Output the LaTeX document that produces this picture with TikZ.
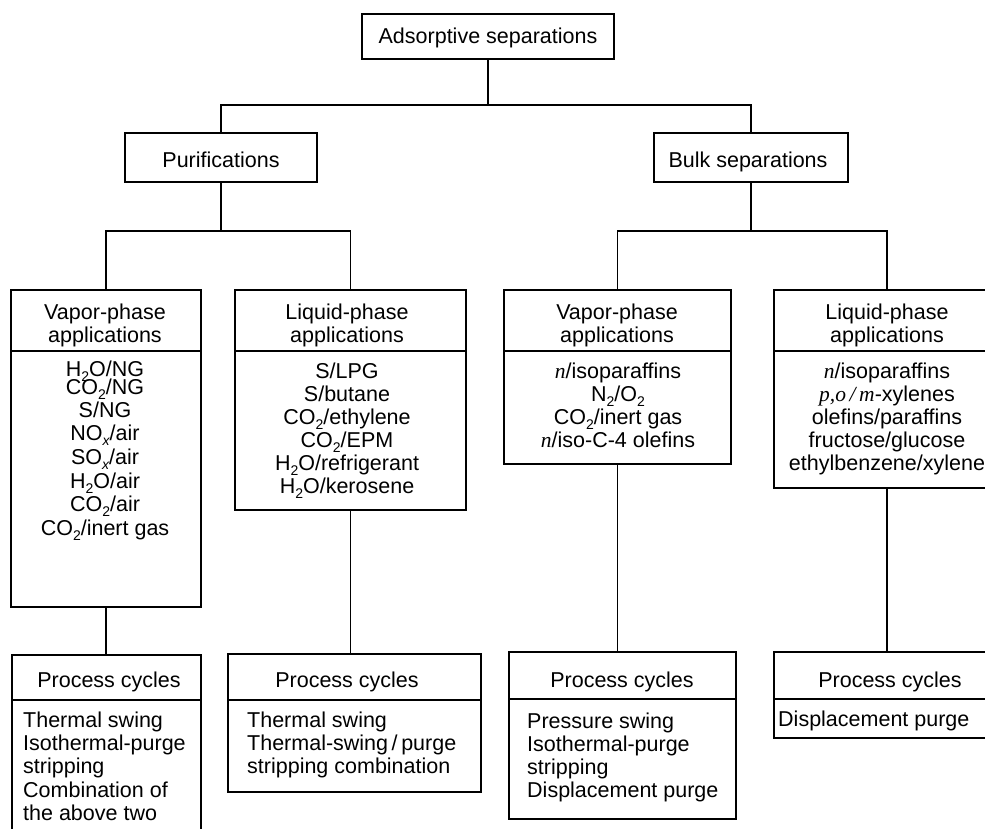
\documentclass[tikz,border=0pt]{standalone}
\usepackage{fontspec}
\setmainfont{Liberation Sans}
\newfontfamily\serifI{Liberation Serif}
\newcommand\sbs[1]{\smash{\raisebox{-0.26em}{\fontsize{14}{14}\selectfont #1}}}
\newcommand\vi[1]{{\serifI\itshape #1}}
\tikzset{
  ln/.style={line width=1.8pt},
  bx/.style={draw, line width=1.8pt, inner sep=0pt, rectangle},
  tx/.style={font=\fontsize{21.5}{23}\selectfont, inner sep=0pt, anchor=base},
  tl/.style={tx, anchor=base west},
}
\begin{document}
\begin{tikzpicture}[x=1pt,y=-1pt]
\useasboundingbox (0,0) rectangle (985,828);
\clip (0,0) rectangle (985,828);
\fill[white] (0,0) rectangle (985,828);

% top levels
\node[bx, minimum width=252pt, minimum height=45pt] (top) at (488,36.5) {};
\node[tx] (topt) at (488,43) {Adsorptive separations};
\node[bx, minimum width=192pt, minimum height=49pt] (pur) at (221,157.5) {};
\node[tx] (purt) at (221,167) {Purifications};
\node[bx, minimum width=194pt, minimum height=49pt] (bulk) at (751,157.5) {};
\node[tx] (bulkt) at (748,167) {Bulk separations};

% application boxes
\node[bx, minimum width=190pt, minimum height=317pt] (va) at (106,448.5) {};
\node[bx, minimum width=231pt, minimum height=220pt] (vb) at (350.5,400) {};
\node[bx, minimum width=227pt, minimum height=174pt] (vc) at (617.5,377) {};
\node[bx, minimum width=226pt, minimum height=198pt] (vd) at (887,389) {};

% process boxes
\node[bx, minimum width=189pt, minimum height=245pt] (pa) at (106.5,777.5) {};
\node[bx, minimum width=253pt, minimum height=138pt] (pb) at (354.5,723) {};
\node[bx, minimum width=227pt, minimum height=167pt] (pc) at (622.5,735.5) {};
\node[bx, minimum width=226pt, minimum height=86pt] (pd) at (887,695) {};

% dividers
\draw[ln] (va.west |- 0,351) -- (va.east |- 0,351);
\draw[ln] (vb.west |- 0,351) -- (vb.east |- 0,351);
\draw[ln] (vc.west |- 0,351) -- (vc.east |- 0,351);
\draw[ln] (vd.west |- 0,351) -- (vd.east |- 0,351);
\draw[ln] (pa.west |- 0,700) -- (pa.east |- 0,700);
\draw[ln] (pb.west |- 0,700) -- (pb.east |- 0,700);
\draw[ln] (pc.west |- 0,699) -- (pc.east |- 0,699);
\draw[ln] (pd.west |- 0,699) -- (pd.east |- 0,699);

% connectors
\draw[ln] (top.south) -- ++(0,45) -| (pur.north);
\draw[ln] (top.south) -- ++(0,45) -| (bulk.north);
\draw[ln] (pur.south) -- ++(0,48) -| (va.north);
\draw[ln] (pur.south) -- ++(0,48) -| (vb.north);
\draw[ln] (bulk.south) -- ++(0,48) -| (vc.north);
\draw[ln] (bulk.south) -- ++(0,48) -| (vd.north);
\draw[ln] (va.south) -- (va.south |- pa.north);
\draw[ln] (vb.south) -- (vb.south |- pb.north);
\draw[ln] (vc.south) -- (vc.south |- pc.north);
\draw[ln] (vd.south) -- (vd.south |- pd.north);

% headers
\node[tx] (ha1) at (105,319) {Vapor-phase};
\node[tx] (ha2) at (105,342) {applications};
\node[tx] (hb1) at (347,319) {Liquid-phase};
\node[tx] (hb2) at (347,342) {applications};
\node[tx] (hc1) at (617,319) {Vapor-phase};
\node[tx] (hc2) at (617,342) {applications};
\node[tx] (hd1) at (887,319) {Liquid-phase};
\node[tx] (hd2) at (887,342) {applications};

% box A items
\node[tx] (a1) at (105,376) {H\sbs{2}O/NG};
\node[tx] (a2) at (105,394) {CO\sbs{2}/NG};
\node[tx] (a3) at (105,417) {S/NG};
\node[tx] (a4) at (105,440) {NO\sbs{\itshape x}/air};
\node[tx] (a5) at (105,464) {SO\sbs{\itshape x}/air};
\node[tx] (a6) at (105,488) {H\sbs{2}O/air};
\node[tx] (a7) at (105,511) {CO\sbs{2}/air};
\node[tx] (a8) at (105,535) {CO\sbs{2}/inert gas};

% box B items
\node[tx] (b1) at (347,378) {S/LPG};
\node[tx] (b2) at (347,401) {S/butane};
\node[tx] (b3) at (347,424) {CO\sbs{2}/ethylene};
\node[tx] (b4) at (347,447) {CO\sbs{2}/EPM};
\node[tx] (b5) at (347,470) {H\sbs{2}O/refrigerant};
\node[tx] (b6) at (347,493) {H\sbs{2}O/kerosene};

% box C items
\node[tx] (c1) at (618,378) {\vi{n}/isoparaffins};
\node[tx] (c2) at (618,401) {N\sbs{2}/O\sbs{2}};
\node[tx] (c3) at (618,424) {CO\sbs{2}/inert gas};
\node[tx] (c4) at (618,447) {\vi{n}/iso-C-4 olefins};

% box D items
\node[tx] (d1) at (887,378) {\vi{n}/isoparaffins};
\node[tx] (d2) at (887,401) {\vi{p,o\,/\,m}-xylenes};
\node[tx] (d3) at (887,424) {olefins/paraffins};
\node[tx] (d4) at (887,447) {fructose/glucose};
\node[tx] (d5) at (887,470) {ethylbenzene/xylene};

% process headers
\node[tx] (pha) at (109,687) {Process cycles};
\node[tx] (phb) at (347,687) {Process cycles};
\node[tx] (phc) at (622,687) {Process cycles};
\node[tx] (phd) at (890,687) {Process cycles};

% process items
\node[tl] (pa1) at (23,727) {Thermal swing};
\node[tl] (pa2) at (23,750) {Isothermal-purge};
\node[tl] (pa3) at (23,773) {stripping};
\node[tl] (pa4) at (23,797) {Combination of};
\node[tl] (pa5) at (23,820) {the above two};

\node[tl] (pb1) at (247,727) {Thermal swing};
\node[tl] (pb2) at (247,750) {Thermal-swing\,/\,purge};
\node[tl] (pb3) at (247,773) {stripping combination};

\node[tl] (pc1) at (527,728) {Pressure swing};
\node[tl] (pc2) at (527,751) {Isothermal-purge};
\node[tl] (pc3) at (527,774) {stripping};
\node[tl] (pc4) at (527,797) {Displacement purge};

\node[tl] (pd1) at (778,726) {Displacement purge};
\end{tikzpicture}
\end{document}
